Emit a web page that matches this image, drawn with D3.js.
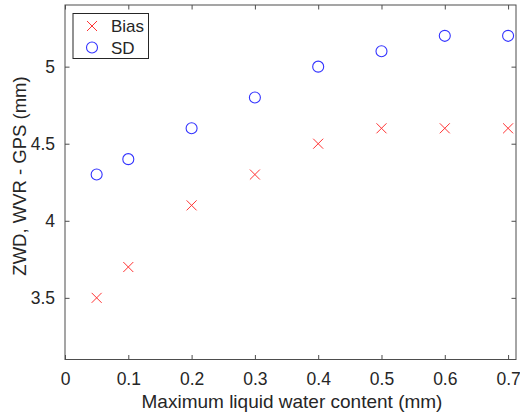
<!DOCTYPE html>
<html>
<head>
<meta charset="utf-8">
<script src="https://cdn.jsdelivr.net/npm/d3@7"></script>
<style>
  html, body { margin: 0; padding: 0; background: #fff; }
  svg { display: block; }
  text { font-family: "Liberation Sans", Arial, Helvetica, sans-serif; fill: #262626; }
</style>
</head>
<body>
<svg id="chart" width="520" height="416"></svg>
<script>
// Maximum liquid water content (mm)
const lwc = [0.05, 0.1, 0.2, 0.3, 0.4, 0.5, 0.6, 0.7];
// ZWD difference WVR - GPS (mm)
const biasValues = [3.5, 3.7, 4.1, 4.3, 4.5, 4.6, 4.6, 4.6];
const sdValues = [4.3, 4.4, 4.6, 4.8, 5.0, 5.1, 5.2, 5.2];
const xTicks = [0, 0.1, 0.2, 0.3, 0.4, 0.5, 0.6, 0.7];
const yTicks = [3.5, 4, 4.5, 5];
const seriesNames = ["Bias", "SD"];

const svg = d3.select("#chart");
const plotL = 65, plotR = 516, plotT = 5, plotB = 359.5;
const tickFont = 17.5;

const x = d3.scaleLinear().domain([0, 0.7125]).range([plotL, plotR]);
const y = d3.scaleLinear().domain([3.1, 5.4]).range([plotB, plotT]);

const axisColor = "#4d4d4d";
const tickLen = 4.5;

// plot box
svg.append("rect")
  .attr("x", plotL).attr("y", plotT)
  .attr("width", plotR - plotL).attr("height", plotB - plotT)
  .attr("fill", "none").attr("stroke", axisColor).attr("stroke-width", 1);

// bottom and top ticks (inward)
const xAxisB = d3.axisBottom(x).tickValues(xTicks).tickSize(-tickLen).tickPadding(13.5)
  .tickFormat(d => d === 0 ? "0" : d3.format(".1f")(d));
const gxb = svg.append("g").attr("transform", `translate(0,${plotB})`).call(xAxisB);
const xAxisT = d3.axisTop(x).tickValues(xTicks).tickSize(-tickLen).tickFormat("");
const gxt = svg.append("g").attr("transform", `translate(0,${plotT})`).call(xAxisT);

// left and right ticks (inward)
const yAxisL = d3.axisLeft(y).tickValues(yTicks).tickSize(-tickLen).tickPadding(10)
  .tickFormat(d => d3.format("")(d));
const gyl = svg.append("g").attr("transform", `translate(${plotL},0)`).call(yAxisL);
const yAxisR = d3.axisRight(y).tickValues(yTicks).tickSize(-tickLen).tickFormat("");
const gyr = svg.append("g").attr("transform", `translate(${plotR},0)`).call(yAxisR);

[gxb, gxt, gyl, gyr].forEach(g => {
  g.select(".domain").remove();
  g.selectAll(".tick line").attr("stroke", axisColor);
  g.selectAll(".tick text").attr("font-size", tickFont).attr("fill", "#262626")
    .attr("font-family", "'Liberation Sans', Arial, sans-serif");
});

// axis labels
svg.append("text")
  .attr("x", (plotL + plotR) / 2 + 1.5).attr("y", 407.5)
  .attr("text-anchor", "middle").attr("font-size", 19)
  .text("Maximum liquid water content (mm)");
svg.append("text")
  .attr("transform", `translate(26,176) rotate(-90)`)
  .attr("text-anchor", "middle").attr("font-size", 18.5)
  .text("ZWD, WVR - GPS (mm)");

const red = "#ff3333", blue = "#3333ff";
const xs = 5;

function cross(g, cx, cy) {
  g.append("path")
    .attr("d", `M${cx - xs},${cy - xs}L${cx + xs},${cy + xs}M${cx - xs},${cy + xs}L${cx + xs},${cy - xs}`)
    .attr("stroke", red).attr("stroke-width", 1).attr("fill", "none");
}

// Bias markers
const gBias = svg.append("g");
lwc.forEach((v, i) => cross(gBias, x(v), y(biasValues[i])));

// SD markers
svg.append("g").selectAll("circle").data(lwc).join("circle")
  .attr("cx", d => x(d)).attr("cy", (d, i) => y(sdValues[i]))
  .attr("r", 5.5).attr("fill", "none").attr("stroke", blue).attr("stroke-width", 1.1);

// legend
const lg = svg.append("g");
lg.append("rect").attr("x", 73).attr("y", 13.5).attr("width", 75.5).attr("height", 45)
  .attr("fill", "#fff").attr("stroke", "#262626").attr("stroke-width", 1);
cross(lg, 92, 26);
lg.append("circle").attr("cx", 92).attr("cy", 47.5).attr("r", 5.5)
  .attr("fill", "none").attr("stroke", blue).attr("stroke-width", 1.1);
lg.append("text").attr("x", 111).attr("y", 32).attr("font-size", 17).text(seriesNames[0]);
lg.append("text").attr("x", 111).attr("y", 53.5).attr("font-size", 17).text(seriesNames[1]);
</script>
</body>
</html>
